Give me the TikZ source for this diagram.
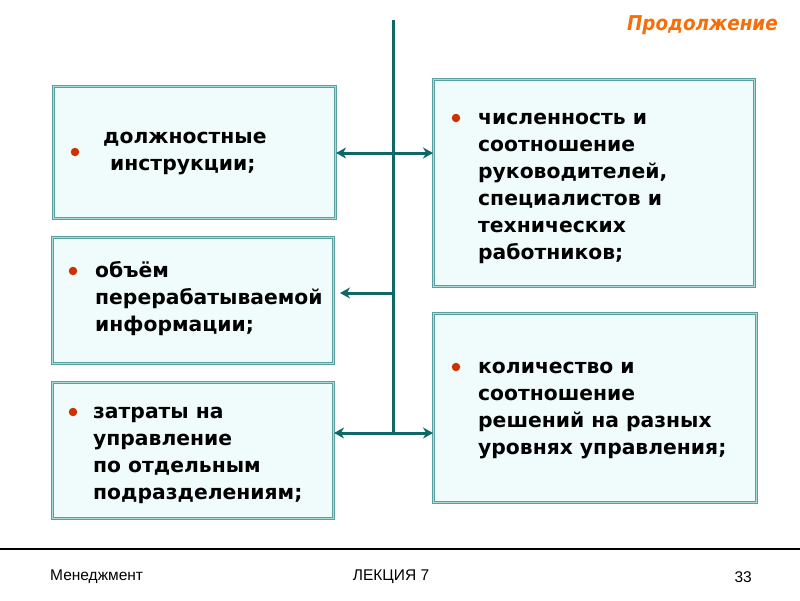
\documentclass[tikz,border=0pt]{standalone}
\usepackage{fontspec}
\setmainfont{DejaVu Sans}
\newfontfamily\boxfont{DejaVu Sans Bold}
\newfontfamily\titlefont[FakeStretch=0.9]{DejaVu Sans Bold Oblique}
\newfontfamily\footfont{Liberation Sans}
\usetikzlibrary{arrows.meta}
\definecolor{boxedge}{RGB}{90,160,160}
\definecolor{boxmid}{RGB}{170,218,218}
\definecolor{boxfill}{RGB}{240,252,252}
\definecolor{linecol}{RGB}{14,104,104}
\definecolor{bulletcol}{RGB}{204,51,0}
\definecolor{titlecol}{RGB}{245,110,10}
\begin{document}
\begin{tikzpicture}[x=1pt,y=-1pt,
  box/.style={draw=boxedge, double=boxmid, double distance=1.5pt, line width=1.1pt, fill=boxfill, minimum width=#1, inner sep=0pt, anchor=north west},
  txt/.style={font=\boxfont\fontsize{20.3}{27}\selectfont, align=left, anchor=base west, inner sep=0pt},
  bul/.style={circle, fill=bulletcol, minimum size=8.5pt, inner sep=0pt},
  conn/.style={draw=linecol, line width=3pt},
  arr/.style={conn, -{Stealth[length=10pt,width=11pt]}},
  darr/.style={conn, {Stealth[length=10pt,width=11pt]}-{Stealth[length=10pt,width=11pt]}},
  foot/.style={font=\footfont\fontsize{15.5}{17}\selectfont, inner sep=0pt}
]
\useasboundingbox (0,0) rectangle (800,600);
\fill[white] (0,0) rectangle (800,600);

% boxes
\node[box=282pt, minimum height=132pt] (b1) at (53,86) {};
\node[box=281pt, minimum height=126pt] (b2) at (52,237) {};
\node[box=281pt, minimum height=136pt] (b3) at (52,382) {};
\node[box=321pt, minimum height=207pt] (b4) at (433,79) {};
\node[box=323pt, minimum height=189pt] (b5) at (433,313) {};

% bullets
\node[bul] (u1) at (75,152) {};
\node[bul] (u2) at (73,271) {};
\node[bul] (u3) at (73,412) {};
\node[bul] (u4) at (456,118) {};
\node[bul] (u5) at (456,367) {};

% texts (anchor = baseline of last line)
\node[txt] (t1a) at (103,143) {должностные};
\node[txt] (t1b) at (110,170) {инструкции;};
\node[txt] (t2) at (95,331) {объём\\перерабатываемой\\информации;};
\node[txt] (t3) at (93,499) {затраты на\\управление\\по отдельным\\подразделениям;};
\node[txt] (t4) at (478,259) {численность и\\соотношение\\руководителей,\\специалистов и\\технических\\работников;};
\node[txt] (t5) at (478,454) {количество и\\соотношение\\решений на разных\\уровнях управления;};

% connectors
\coordinate (top) at (393,20);
\coordinate (j1) at (393,153);
\coordinate (j2) at (393,293);
\coordinate (j3) at (393,433);
\coordinate (e2) at (340,293);
\draw[conn] (top) -- (j3);
\draw[darr] (b1.east |- j1) -- (b4.west |- j1);
\draw[arr] (j2) -- (e2);
\draw[darr] (b3.east |- j3) -- (b5.west |- j3);

% title
\node[font=\titlefont\fontsize{20.4}{22}\selectfont, text=titlecol, anchor=east, inner sep=0pt] (title) at (778,25) {Продолжение};

% footer
\coordinate (fl) at (0,549);
\coordinate (fr) at (800,549);
\draw[line width=1.5pt, black] (fl) -- (fr);
\node[foot, anchor=west] (f1) at (50,577) {Менеджмент};
\node[foot] (f2) at (391,577) {ЛЕКЦИЯ 7};
\node[foot, anchor=east] (f3) at (752,577) {33};
\end{tikzpicture}
\end{document}
